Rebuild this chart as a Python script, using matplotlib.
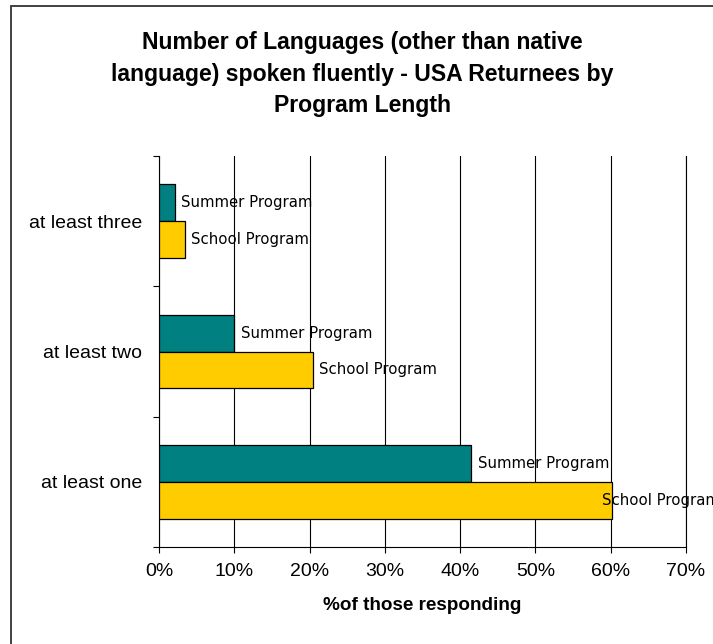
import matplotlib
matplotlib.use("Agg")
import matplotlib.pyplot as plt
from matplotlib.patches import Rectangle
from matplotlib.ticker import FixedLocator, PercentFormatter
import numpy as np

# ---- data ----
categories = ["at least one", "at least two", "at least three"]
summer_values = [41.5, 10.0, 2.1]
school_values = [60.2, 20.4, 3.4]
series_names = ["Summer Program", "School Program"]
x_ticks = [0, 10, 20, 30, 40, 50, 60, 70]
title_lines = ["Number of Languages (other than native",
               "language) spoken fluently - USA Returnees by",
               "Program Length"]
x_label = "%of those responding"

W, H = 713, 644
fig = plt.figure(figsize=(W / 100, H / 100), dpi=100)
fig.patch.set_facecolor("white")

# outer frame (extends past right/bottom of image)
fig.patches.append(Rectangle((11 / W, -0.02), 1.05, 1 - 6 / H + 0.02,
                             transform=fig.transFigure, fill=False,
                             edgecolor="#333333", linewidth=1.3))

ax = fig.add_axes([159 / W, 1 - 547 / H, (686 - 159) / W, (547 - 156) / H])

teal = "#008080"
yellow = "#FFCC00"
y = np.arange(len(categories))
h = 0.282
ax.barh(y + h / 2, summer_values, height=h, color=teal, edgecolor="black",
        linewidth=0.9, zorder=3)
ax.barh(y - h / 2, school_values, height=h, color=yellow, edgecolor="black",
        linewidth=0.9, zorder=3)

lab_font = dict(family="DejaVu Sans", fontsize=10.7, color="black")
max_school = max(school_values)
for yi, v in zip(y, summer_values):
    ax.annotate(series_names[0], (v, yi + h / 2), xytext=(4.8, 0),
                textcoords="offset points", va="center", ha="left",
                zorder=5, annotation_clip=False, **lab_font)
for yi, v in zip(y, school_values):
    off = -7.6 if v == max_school else 4.6
    ax.annotate(series_names[1], (v, yi - h / 2), xytext=(off, 0),
                textcoords="offset points", va="center", ha="left",
                zorder=5, annotation_clip=False, **lab_font)

ax.set_xlim(0, 70)
ax.set_ylim(-0.5, len(categories) - 0.5)
ax.xaxis.set_major_locator(FixedLocator(x_ticks))
ax.xaxis.set_major_formatter(PercentFormatter(decimals=0))
ax.grid(axis="x", color="black", linewidth=0.8, zorder=0)

ax.yaxis.set_major_locator(FixedLocator(np.arange(-0.5, len(categories), 1.0)))
ax.yaxis.set_major_formatter(plt.NullFormatter())
ax.yaxis.set_minor_locator(FixedLocator(y))
ax.set_yticklabels(categories, minor=True)
ax.tick_params(axis="y", which="minor", length=0, pad=12)
ax.tick_params(axis="y", which="major", length=4.3, width=0.8, direction="out")
ax.tick_params(axis="x", length=4.3, width=0.8, direction="out", pad=7.5)

for lbl in ax.get_xticklabels() + ax.get_yticklabels(minor=True):
    lbl.set_fontfamily("Liberation Sans")
    lbl.set_fontsize(14)

ax.spines["top"].set_visible(False)
for s in ["left", "bottom", "right"]:
    ax.spines[s].set_linewidth(0.8)
    ax.spines[s].set_color("black")

ax.set_xlabel(x_label, fontfamily="Liberation Sans", fontweight="bold",
              fontsize=13.6, labelpad=12)

baselines = [49.3, 81.0, 111.7]
for line, b in zip(title_lines, baselines):
    fig.text(362 / W, 1 - b / H, line, ha="center", va="baseline",
             fontfamily="Liberation Sans", fontweight="bold", fontsize=16.6)

fig.savefig("out.png", dpi=100)
